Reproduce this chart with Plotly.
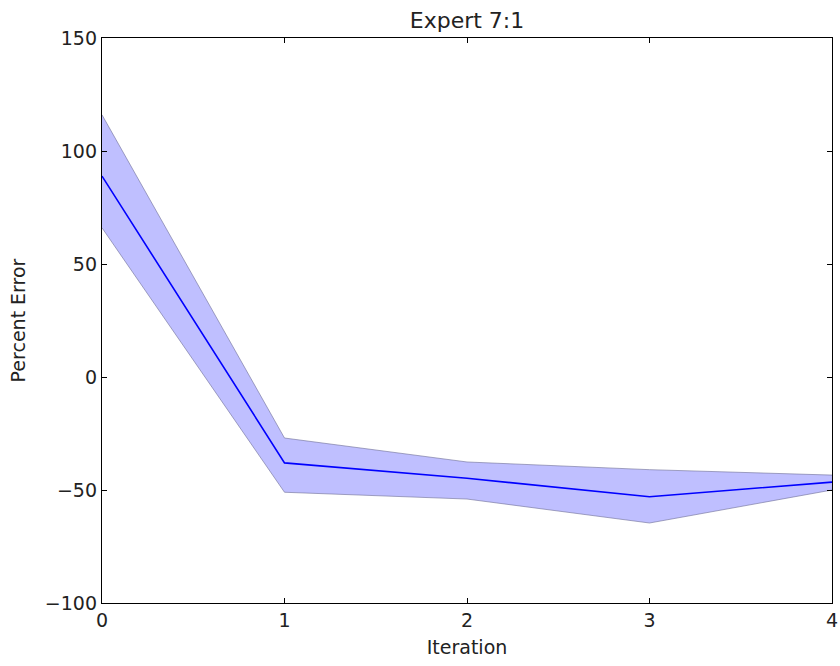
import plotly.graph_objects as go

iterations = [0, 1, 2, 3, 4]
mean_err = [88.9, -38.0, -44.8, -53.0, -46.5]
upper_err = [116.0, -27.0, -37.6, -41.0, -43.4]
lower_err = [66.0, -51.0, -54.0, -64.6, -50.0]

fig = go.Figure()
fig.add_trace(go.Scatter(x=iterations, y=upper_err, mode="lines",
                         line=dict(color="rgba(110,110,150,0.6)", width=1),
                         showlegend=False, hoverinfo="skip"))
fig.add_trace(go.Scatter(x=iterations, y=lower_err, mode="lines",
                         line=dict(color="rgba(110,110,150,0.6)", width=1),
                         fill="tonexty", fillcolor="rgba(0,0,255,0.25)",
                         showlegend=False, hoverinfo="skip"))
fig.add_trace(go.Scatter(x=iterations, y=mean_err, mode="lines",
                         line=dict(color="#0000ff", width=1.6),
                         showlegend=False))

axis_common = dict(showgrid=False, zeroline=False, showline=True, linecolor="black",
                   linewidth=1.3, mirror="ticks", ticks="inside", ticklen=5,
                   tickcolor="black", automargin=False,
                   tickfont=dict(family="DejaVu Sans", size=19, color="#222"))

fig.update_layout(
    width=840, height=666,
    margin=dict(l=102, r=8, t=38, b=63),
    paper_bgcolor="white", plot_bgcolor="white",
    title=dict(text="Expert 7:1", x=0.5, xanchor="center", xref="paper",
               yref="container", y=0.97, yanchor="middle",
               font=dict(family="DejaVu Sans", size=22, color="#222")),
    xaxis=dict(range=[0, 4], tickvals=[0, 1, 2, 3, 4],
               title=dict(text="Iteration", font=dict(family="DejaVu Sans", size=19, color="#222"), standoff=10),
               **axis_common),
    yaxis=dict(range=[-100, 150], tickvals=[-100, -50, 0, 50, 100, 150],
               ticktext=["\u2212100", "\u221250", "0", "50", "100", "150"],
               title=dict(text="Percent Error", font=dict(family="DejaVu Sans", size=19, color="#222"), standoff=14),
               **axis_common),
)

fig.write_html("out.html", config={"displayModeBar": False},
               post_script="document.body.style.margin='0';document.body.style.overflow='hidden';")
